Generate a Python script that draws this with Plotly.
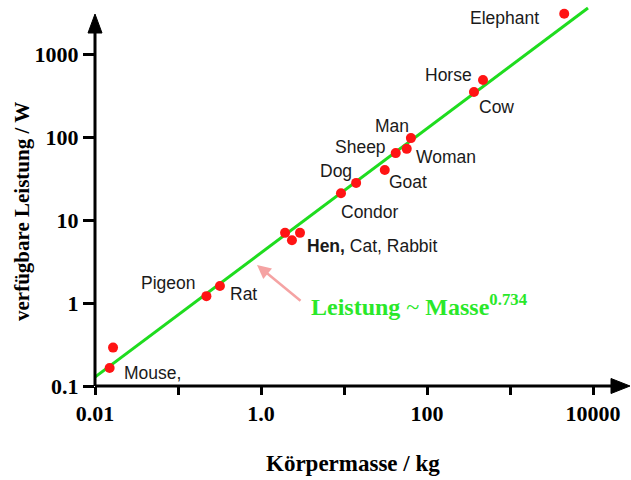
import math
import plotly.graph_objects as go

# ---- data ----
animals = ["Elephant", "Horse", "Cow", "Man", "Woman", "Sheep", "Goat", "Dog",
           "Condor", "Hen", "Cat", "Rabbit", "Pigeon", "Rat", "Mouse (2)", "Mouse"]
mass_kg = [4500, 473, 368, 64, 57, 42, 31, 14, 9.2, 1.95, 2.36, 2.95, 0.22, 0.32, 0.0165, 0.015]
power_w = [3050, 486, 349, 97, 72, 64, 40, 28, 21, 7.0, 5.7, 7.0, 1.21, 1.6, 0.29, 0.165]

# fitted line end points
fit_mass = [0.01, 8700]
fit_power = [0.128, 3580]

x_tickvals = [0.01, 1, 100, 10000]
x_ticktext = ["0.01", "1.0", "100", "10000"]
x_minorvals = [0.1, 10, 1000]
y_tickvals = [0.1, 1, 10, 100, 1000]
y_ticktext = ["0.1", "1", "10", "100", "1000"]

# label text and pixel offsets relative to their point
labels = {
    "Elephant": ("Elephant", -60, -4),
    "Horse": ("Horse", -35, 5),
    "Cow": ("Cow", 23, -15),
    "Man": ("Man", -19, 12),
    "Woman": ("Woman", 39, -8),
    "Sheep": ("Sheep", -35, 6),
    "Goat": ("Goat", 23, -12),
    "Dog": ("Dog", -20, 12),
    "Condor": ("Condor", 29, -19),
    "Cat": ("<b>Hen,</b> Cat, Rabbit", 80, -6),
    "Pigeon": ("Pigeon", -38, 13),
    "Rat": ("Rat", 24, -8),
    "Mouse": ("Mouse,", 43, -5),
}

# ---- layout geometry ----
L, T, B, R = 95, 5, 94, 0
W, H = 631, 480
PW, PH = W - L - R, H - T - B
DEC = 83.0  # pixels per decade
xr = [-2, -2 + PW / DEC]
yr = [-1, -1 + PH / DEC]

def px(x):
    return (x - L) / PW

def py(y):
    return (H - B - y) / PH

fig = go.Figure()

fig.add_trace(go.Scatter(
    x=fit_mass, y=fit_power, mode="lines",
    line=dict(color="#1fdc1f", width=3), hoverinfo="skip", showlegend=False,
    cliponaxis=False,
))
fig.add_trace(go.Scatter(
    x=mass_kg, y=power_w, mode="markers", text=animals,
    marker=dict(color="#ff1414", size=10, line=dict(width=0)),
    showlegend=False, cliponaxis=False,
))

label_font = dict(family="Liberation Sans", size=17.5, color="#1a1a1a")
for name, m, p in zip(animals, mass_kg, power_w):
    if name in labels:
        txt, dx, dy = labels[name]
        fig.add_annotation(x=math.log10(m), y=math.log10(p), xref="x", yref="y",
                           text=txt, showarrow=False, xshift=dx, yshift=dy,
                           xanchor="center", yanchor="middle",
                           font=label_font)

serif_bold = dict(family="Liberation Serif", size=22, color="black", weight="bold")

# pink arrow (drawn as a shape-free annotation arrow)
fig.add_annotation(x=-0.048, y=0.458, xref="x", yref="y", ax=45, ay=37,
                   showarrow=True, arrowhead=2, arrowsize=1.1, arrowwidth=2.5,
                   arrowcolor="#f5a3a3", text="")

# green formula
fig.add_annotation(x=px(309), y=py(305), xref="paper", yref="paper",
                   xanchor="left", yanchor="middle", showarrow=False,
                   text="<b>Leistung</b> ~ <b>Masse</b><sup><b>0.734</b></sup>",
                   font=dict(family="Liberation Serif", size=24, color="#2ae82a"))

# axis titles
fig.add_annotation(x=px(353), y=py(463), xref="paper", yref="paper",
                   xanchor="center", yanchor="middle",
                   text="Körpermasse / kg", showarrow=False,
                   font=dict(serif_bold, size=23))
fig.add_annotation(x=px(22), y=py(212), xref="paper", yref="paper",
                   xanchor="center", yanchor="middle",
                   text="verfügbare Leistung / W", showarrow=False, textangle=-90,
                   font=dict(serif_bold, size=21))

# axis lines with arrow heads
shapes = [
    dict(type="line", xref="paper", yref="paper", x0=0, y0=0, x1=px(614), y1=0,
         line=dict(color="black", width=3)),
    dict(type="line", xref="paper", yref="paper", x0=0, y0=0, x1=0, y1=py(31),
         line=dict(color="black", width=3)),
    dict(type="path", xref="paper", yref="paper",
         path=f"M {px(611)},{py(378.5)} L {px(630)},{py(386)} L {px(611)},{py(393.5)} Z",
         fillcolor="black", line=dict(color="black", width=1)),
    dict(type="path", xref="paper", yref="paper",
         path=f"M {px(88)},{py(33)} L {px(95)},{py(14)} L {px(102)},{py(33)} Z",
         fillcolor="black", line=dict(color="black", width=1)),
]

fig.update_layout(
    width=W, height=H,
    margin=dict(l=L, r=R, t=T, b=B, pad=0),
    paper_bgcolor="white", plot_bgcolor="white",
    shapes=shapes,
    xaxis=dict(type="log", range=xr, tickvals=x_tickvals, ticktext=x_ticktext,
               ticks="outside", ticklen=8, tickwidth=2.5, tickcolor="black",
               minor=dict(tickvals=x_minorvals, ticks="outside", ticklen=8,
                          tickwidth=2.5, tickcolor="black", showgrid=False),
               showgrid=False, zeroline=False, showline=False,
               tickfont=serif_bold),
    yaxis=dict(type="log", range=yr, tickvals=y_tickvals, ticktext=y_ticktext,
               ticks="outside", ticklen=11, tickwidth=2.5, tickcolor="black",
               showgrid=False, zeroline=False, showline=False,
               tickfont=serif_bold),
)

fig.write_html("out.html")
